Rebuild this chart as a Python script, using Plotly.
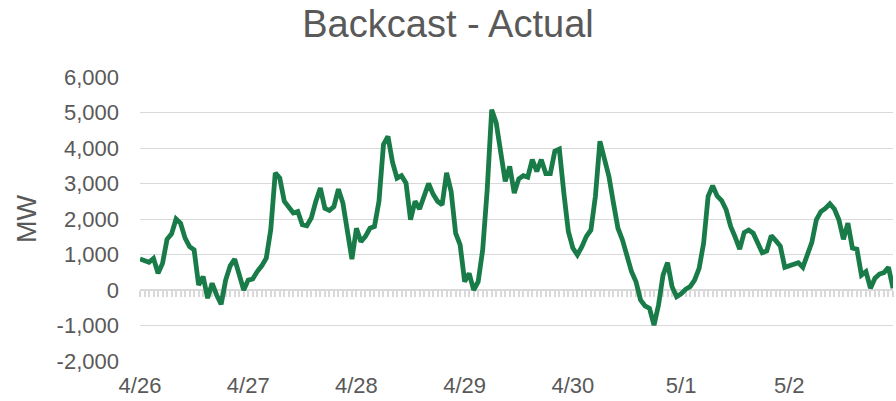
import pandas as pd
import plotly.graph_objects as go

# Hourly timestamps, 4/26 through 5/2 (168 hours)
start_date = "2021-04-26 00:00"
n_hours = 168
hours = pd.date_range(start_date, periods=n_hours, freq="h")

# Backcast - Actual (MW), hourly
backcast_minus_actual = [
    875, 810, 780, 890, 470, 750, 1430, 1580, 2000, 1880, 1460, 1220,
    1130, 140, 380, -230, 190, -140, -400, 280, 680, 870, 380, 0,
    280, 310, 520, 680, 895, 1700, 3300, 3150, 2500, 2330, 2170, 2210,
    1840, 1810, 2030, 2500, 2870, 2300, 2240, 2350, 2840, 2450, 1600, 870,
    1740, 1360, 1510, 1740, 1790, 2500, 4100, 4330, 3600, 3150, 3220, 3010,
    1980, 2500, 2280, 2640, 3000, 2700, 2500, 2400, 3300, 2780, 1600, 1270,
    235, 470, 0, 235, 1130, 2820, 5080, 4710, 3860, 3060, 3480, 2730,
    3130, 3220, 3180, 3670, 3340, 3670, 3280, 3280, 3910, 3970, 2730, 1650,
    1180, 990, 1220, 1510, 1690, 2640, 4190, 3670, 3200, 2450, 1740, 1410,
    940, 520, 235, -280, -450, -520, -990, -420, 420, 770, 95, -190,
    -110, 20, 95, 280, 610, 1320, 2640, 2940, 2650, 2520, 2260, 1790,
    1490, 1150, 1620, 1690, 1600, 1360, 1050, 1100, 1530, 1390, 1240, 640,
    680, 750, 770, 640, 1040, 1340, 1980, 2210, 2300, 2430, 2280, 1980,
    1430, 1880, 1180, 1150, 420, 520, 50, 330, 450, 490, 640, 50,
]

y_ticks = [-2000, -1000, 0, 1000, 2000, 3000, 4000, 5000, 6000]
y_tick_labels = ["-2,000", "-1,000", "0", "1,000", "2,000", "3,000", "4,000", "5,000", "6,000"]
title_text = "Backcast - Actual"
y_title = "MW"

GREEN = "#197B48"
GRID = "#D9D9D9"
TEXT = "#595959"
FONT = "Liberation Sans, Arial, sans-serif"

fig = go.Figure()
fig.add_trace(go.Scatter(
    x=hours, y=backcast_minus_actual, mode="lines",
    line=dict(color=GREEN, width=4.8, shape="linear"),
    showlegend=False, hoverinfo="x+y",
))
# invisible trace to carry the hourly tick axis that sits on the zero line
fig.add_trace(go.Scatter(
    x=[hours[0]], y=[0], xaxis="x2", mode="lines",
    line=dict(width=0), showlegend=False, hoverinfo="skip",
))

x_range = [hours[0], hours[-1]]
zero_pos = (0 - y_ticks[0]) / (y_ticks[-1] - y_ticks[0])
fig.update_layout(
    width=896, height=401,
    margin=dict(l=140, r=3, t=77, b=40),
    paper_bgcolor="white", plot_bgcolor="white",
    font=dict(family=FONT, color=TEXT, size=22),
    title=dict(text=title_text, x=0.5, xanchor="center", y=0.94, yanchor="middle",
               font=dict(size=38, color=TEXT, family=FONT)),
    xaxis=dict(
        range=x_range, type="date",
        tickformat="%-m/%-d", dtick=86400000, tick0=hours[0],
        showgrid=False, zeroline=False, showline=False, ticks="",
        tickfont=dict(size=22, color=TEXT), ticklabelstandoff=9,
    ),
    xaxis2=dict(
        range=x_range, type="date", overlaying="x", anchor="free", position=zero_pos,
        dtick=3600000, tick0=hours[0], ticks="outside", ticklen=6, tickwidth=1.5,
        tickcolor=GRID, showline=True, linecolor=GRID, linewidth=1.5,
        showticklabels=False, showgrid=False, zeroline=False, layer="below traces",
    ),
    yaxis=dict(
        range=[y_ticks[0], y_ticks[-1]], tickmode="array",
        tickvals=y_ticks, ticktext=y_tick_labels,
        showgrid=True, gridcolor=GRID, gridwidth=1.3,
        zeroline=False, showline=False, ticks="",
        tickfont=dict(size=22, color=TEXT), ticklabelstandoff=20,
        title=dict(text=y_title, font=dict(size=27, color=TEXT), standoff=12),
    ),
)

fig.write_html("out.html", config={"displayModeBar": False},
               post_script="document.body.style.margin='0';")
